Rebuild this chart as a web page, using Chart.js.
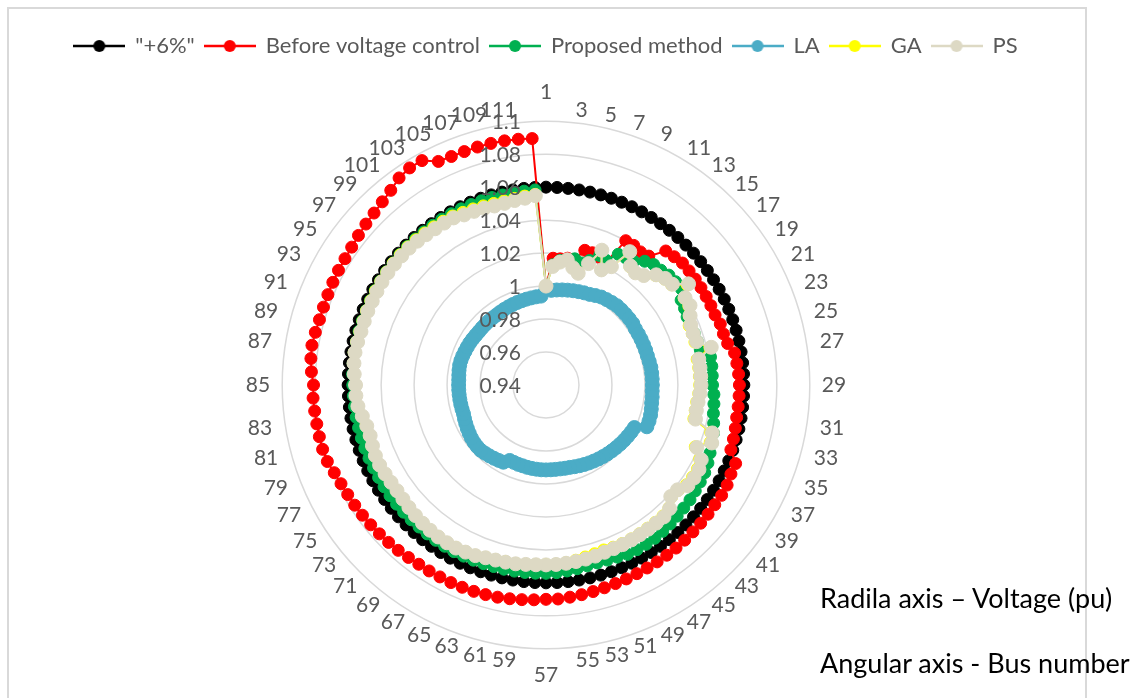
<!DOCTYPE html>
<html>
<head>
<meta charset="utf-8">
<script src="https://cdn.jsdelivr.net/npm/chart.js@4.4.1/dist/chart.umd.min.js"></script>
<style>
  html, body { margin: 0; padding: 0; background: #ffffff; width: 1138px; height: 698px; overflow: hidden; }
  #frame { position: absolute; left: 7px; top: 7px; width: 1080px; height: 740px; border: 2px solid #d9d9d9; box-sizing: border-box; }
  #wrap { position: absolute; left: 0; top: 0; width: 1138px; height: 698px; }
  .note { position: absolute; left: 820px; font-family: Lato, "Open Sans", sans-serif; font-size: 27px; color: #000000; white-space: nowrap; line-height: 30px; }
</style>
</head>
<body>
<div id="frame"></div>
<div id="wrap"><canvas id="radar" width="1138" height="698"></canvas></div>
<div class="note" style="top:583px">Radila axis – Voltage (pu)</div>
<div class="note" style="top:648px">Angular axis - Bus number</div>
<script>
// Bus numbers around the angular axis
const busNumbers = [
  1, 2, 3, 4, 5, 6, 7, 8, 9, 10,
  11, 12, 13, 14, 15, 16, 17, 18, 19, 20,
  21, 22, 23, 24, 25, 26, 27, 28, 29, 30,
  31, 32, 33, 34, 35, 36, 37, 38, 39, 40,
  41, 42, 43, 44, 45, 46, 47, 48, 49, 50,
  51, 52, 53, 54, 55, 56, 57, 58, 59, 60,
  61, 62, 63, 64, 65, 66, 67, 68, 69, 70,
  71, 72, 73, 74, 75, 76, 77, 78, 79, 80,
  81, 82, 83, 84, 85, 86, 87, 88, 89, 90,
  91, 92, 93, 94, 95, 96, 97, 98, 99, 100,
  101, 102, 103, 104, 105, 106, 107, 108, 109, 110,
  111, 112
];

// Radial axis tick values (voltage, pu)
const voltageTicks = [0.94, 0.96, 0.98, 1.0, 1.02, 1.04, 1.06, 1.08, 1.1];

// Upper voltage limit (+6 %)
const upperLimit = [
  1.06, 1.06, 1.06, 1.06, 1.06, 1.06, 1.06, 1.06, 1.06, 1.06,
  1.06, 1.06, 1.06, 1.06, 1.06, 1.06, 1.06, 1.06, 1.06, 1.06,
  1.06, 1.06, 1.06, 1.06, 1.06, 1.06, 1.06, 1.06, 1.06, 1.06,
  1.06, 1.06, 1.06, 1.06, 1.06, 1.06, 1.06, 1.06, 1.06, 1.06,
  1.06, 1.06, 1.06, 1.06, 1.06, 1.06, 1.06, 1.06, 1.06, 1.06,
  1.06, 1.06, 1.06, 1.06, 1.06, 1.06, 1.06, 1.06, 1.06, 1.06,
  1.06, 1.06, 1.06, 1.06, 1.06, 1.06, 1.06, 1.06, 1.06, 1.06,
  1.06, 1.06, 1.06, 1.06, 1.06, 1.06, 1.06, 1.06, 1.06, 1.06,
  1.06, 1.06, 1.06, 1.06, 1.06, 1.06, 1.06, 1.06, 1.06, 1.06,
  1.06, 1.06, 1.06, 1.06, 1.06, 1.06, 1.06, 1.06, 1.06, 1.06,
  1.06, 1.06, 1.06, 1.06, 1.06, 1.06, 1.06, 1.06, 1.06, 1.06,
  1.06, 1.06
];

// Bus voltages before voltage control
const beforeControl = [
  1.000, 1.017, 1.017, 1.018, 1.018, 1.025, 1.025, 1.024, 1.021, 1.040,
  1.040, 1.039, 1.040, 1.049, 1.050, 1.051, 1.051, 1.051, 1.051, 1.051,
  1.051, 1.051, 1.052, 1.052, 1.053, 1.056, 1.0565, 1.057, 1.0573, 1.0573,
  1.0573, 1.0573, 1.0578, 1.0583, 1.0588, 1.0645, 1.0645, 1.0655, 1.0658, 1.0655,
  1.0657, 1.0658, 1.066, 1.0662, 1.0665, 1.0666, 1.0667, 1.0668, 1.067, 1.0673,
  1.0676, 1.068, 1.0685, 1.069, 1.0695, 1.070, 1.070, 1.0705, 1.071, 1.0715,
  1.072, 1.0723, 1.0726, 1.0728, 1.073, 1.073, 1.0732, 1.0733, 1.0738, 1.0745,
  1.075, 1.0755, 1.076, 1.0765, 1.077, 1.0774, 1.078, 1.079, 1.0805, 1.081,
  1.081, 1.081, 1.0812, 1.0815, 1.081, 1.0825, 1.0835, 1.084, 1.0835, 1.083,
  1.083, 1.0832, 1.0835, 1.0838, 1.084, 1.0845, 1.0855, 1.0865, 1.0875, 1.089,
  1.091, 1.094, 1.0955, 1.0955, 1.0905, 1.090, 1.090, 1.0902, 1.0903, 1.0902,
  1.090, 1.0897
];

// Bus voltages with the proposed method
const proposedMethod = [
  1.000, 1.013, 1.016, 1.017, 1.0185, 1.017, 1.020, 1.025, 1.024, 1.0306,
  1.031, 1.032, 1.036, 1.038, 1.0385, 1.040, 1.0405, 1.0407, 1.0368, 1.036,
  1.035, 1.035, 1.0352, 1.0355, 1.036, 1.0412, 1.0412, 1.041, 1.041, 1.042,
  1.0425, 1.043, 1.0443, 1.0457, 1.0467, 1.0477, 1.049, 1.050, 1.0505, 1.051,
  1.0517, 1.052, 1.0525, 1.053, 1.0535, 1.054, 1.0541, 1.0541, 1.054, 1.053,
  1.0525, 1.0523, 1.0525, 1.053, 1.0535, 1.054, 1.0542, 1.0543, 1.0544, 1.0545,
  1.0546, 1.0546, 1.0548, 1.055, 1.0552, 1.0555, 1.0555, 1.0555, 1.0555, 1.0555,
  1.0556, 1.0558, 1.0559, 1.056, 1.056, 1.056, 1.0561, 1.0562, 1.0564, 1.0565,
  1.0566, 1.0568, 1.0569, 1.057, 1.0572, 1.0575, 1.0577, 1.058, 1.058, 1.058,
  1.058, 1.058, 1.0582, 1.0584, 1.0585, 1.0586, 1.0587, 1.0588, 1.0588, 1.0588,
  1.0588, 1.0588, 1.0588, 1.0587, 1.0586, 1.0585, 1.0584, 1.0583, 1.0582, 1.0582,
  1.0583, 1.0585
];

// Bus voltages, LA
const laVoltages = [
  0.998, 0.9975, 0.998, 0.9985, 0.999, 0.9995, 1.000, 1.0005, 1.001, 1.002,
  1.003, 1.0035, 1.004, 1.0045, 1.0045, 1.0045, 1.0045, 1.0045, 1.004, 1.004,
  1.004, 1.004, 1.004, 1.004, 1.0042, 1.0045, 1.0045, 1.0045, 1.0045, 1.0045,
  1.0048, 1.005, 1.0055, 1.006, 1.0062, 1.0062, 0.9995, 0.999, 0.9985, 0.998,
  0.9975, 0.997, 0.9965, 0.996, 0.9955, 0.995, 0.9945, 0.994, 0.9935, 0.993,
  0.9925, 0.992, 0.9918, 0.9916, 0.9915, 0.9915, 0.9915, 0.9915, 0.9914, 0.9913,
  0.9912, 0.991, 0.991, 0.9908, 0.9908, 0.9935, 0.994, 0.9945, 0.995, 0.9955,
  0.996, 0.996, 0.9958, 0.9955, 0.995, 0.9945, 0.994, 0.9935, 0.993, 0.993,
  0.993, 0.993, 0.993, 0.993, 0.993, 0.993, 0.9932, 0.9935, 0.9937, 0.9937,
  0.9935, 0.9932, 0.993, 0.9928, 0.9925, 0.9922, 0.992, 0.992, 0.992, 0.992,
  0.992, 0.992, 0.9922, 0.9924, 0.9926, 0.9928, 0.993, 0.9932, 0.9934, 0.9936,
  0.9938, 0.994
];

// Bus voltages, GA
const gaVoltages = [
  1.000, 1.012, 1.015, 1.017, 1.013, 1.011, 1.018, 1.028, 1.0175, 1.022,
  1.035, 1.028, 1.027, 1.029, 1.034, 1.0365, 1.0375, 1.045, 1.039, 1.039,
  1.0365, 1.034, 1.034, 1.034, 1.042, 1.033, 1.0332, 1.0332, 1.0332, 1.0328,
  1.032, 1.0318, 1.032, 1.044, 1.0455, 1.038, 1.0435, 1.045, 1.045, 1.0445,
  1.0425, 1.042, 1.0455, 1.0465, 1.0465, 1.0465, 1.0466, 1.0467, 1.0467, 1.0465,
  1.046, 1.0465, 1.047, 1.0478, 1.0485, 1.0488, 1.049, 1.0491, 1.0494, 1.0498,
  1.050, 1.0503, 1.0508, 1.0518, 1.0523, 1.0528, 1.0529, 1.0529, 1.0527, 1.0524,
  1.052, 1.0516, 1.0512, 1.051, 1.0512, 1.0517, 1.0522, 1.0522, 1.0518, 1.0513,
  1.0518, 1.0532, 1.055, 1.0557, 1.0558, 1.0568, 1.0576, 1.058, 1.0578, 1.0575,
  1.0576, 1.0578, 1.0579, 1.0581, 1.0583, 1.0584, 1.0585, 1.0585, 1.0584, 1.0582,
  1.0579, 1.0576, 1.0573, 1.0571, 1.0562, 1.0556, 1.0551, 1.0546, 1.0545, 1.0548,
  1.0553, 1.0558
];

// Bus voltages, PS
const psVoltages = [
  1.000, 1.012, 1.015, 1.017, 1.013, 1.0105, 1.018, 1.0285, 1.0175, 1.022,
  1.0355, 1.0285, 1.027, 1.029, 1.0345, 1.037, 1.038, 1.046, 1.0396, 1.0398,
  1.037, 1.035, 1.0346, 1.035, 1.0428, 1.034, 1.034, 1.034, 1.034, 1.0335,
  1.0328, 1.0325, 1.033, 1.045, 1.0465, 1.039, 1.0445, 1.046, 1.046, 1.0455,
  1.042, 1.0415, 1.046, 1.0473, 1.0472, 1.0472, 1.0472, 1.0473, 1.0474, 1.0474,
  1.0475, 1.048, 1.0483, 1.0486, 1.0488, 1.049, 1.0491, 1.0492, 1.0495, 1.050,
  1.0502, 1.0505, 1.051, 1.052, 1.0525, 1.053, 1.053, 1.053, 1.0527, 1.0524,
  1.052, 1.0515, 1.051, 1.0508, 1.051, 1.0515, 1.052, 1.052, 1.0515, 1.051,
  1.0515, 1.053, 1.0548, 1.0555, 1.0555, 1.0565, 1.0572, 1.0575, 1.0572, 1.0568,
  1.0568, 1.057, 1.057, 1.0572, 1.0575, 1.0576, 1.0576, 1.0575, 1.0574, 1.057,
  1.0566, 1.0562, 1.056, 1.0558, 1.0545, 1.054, 1.0535, 1.053, 1.053, 1.0535,
  1.054, 1.055
];

const seriesNames = ['"+6%"', 'Before voltage control', 'Proposed method', 'LA', 'GA', 'PS'];
const seriesData = [upperLimit, beforeControl, proposedMethod, laVoltages, gaVoltages, psVoltages];

// Styling (kept apart from the data)
const seriesColors = ['#000000', '#FF0000', '#00B050', '#4BACC6', '#FFFF00', '#DDD9C4'];
const seriesPointRadius = [6, 6, 6, 7, 6, 7];
const textGrey = '#595959';
const fontFamily = 'Lato, "Open Sans", sans-serif';
const labelFontSize = 21;

// Legend swatch: short line with a round marker in the middle
function makeSwatch(color) {
  const c = document.createElement('canvas');
  c.width = 52; c.height = 14;
  const g = c.getContext('2d');
  g.strokeStyle = color; g.lineWidth = 2.5;
  g.beginPath(); g.moveTo(0, 7); g.lineTo(52, 7); g.stroke();
  g.fillStyle = color;
  g.beginPath(); g.arc(26, 7, 6, 0, Math.PI * 2); g.fill();
  return c;
}
const legendSwatches = seriesColors.map(makeSwatch);

function fmtVoltage(v) { return String(parseFloat(v.toFixed(2))); }

// Voltage labels drawn on top of the series, right-aligned beside the vertical axis
const voltageLabels = {
  id: 'voltageLabels',
  afterDatasetsDraw(chart) {
    const s = chart.scales.r;
    const ctx = chart.ctx;
    ctx.save();
    ctx.font = labelFontSize + 'px ' + fontFamily;
    ctx.fillStyle = textGrey;
    ctx.textAlign = 'right';
    ctx.textBaseline = 'middle';
    s.ticks.forEach(t => {
      const y = s.yCenter - s.getDistanceFromCenterForValue(t.value);
      ctx.fillText(fmtVoltage(t.value), s.xCenter - 25, y + 1);
    });
    ctx.restore();
  }
};

// Extra room between the legend and the plot
const legendGap = {
  id: 'legendGap',
  beforeInit(chart) {
    const fit = chart.legend.fit;
    chart.legend.fit = function () { fit.call(this); this.height += 12; };
  }
};

// Gap between the outer ring and a bus label: wider at the sides, tight on the diagonals
function pointLabelGap(ctx) {
  const n = busNumbers.length;
  const i = ctx.index;
  if (i === 0) return 16;
  if (i === n / 2) return 14;
  const s = Math.abs(Math.sin(i * 2 * Math.PI / n));
  return 12 * Math.pow(s, 4);
}

const nSeries = seriesNames.length;
const datasets = seriesNames.map((name, i) => ({
  label: name,
  data: seriesData[i],
  borderColor: seriesColors[i],
  backgroundColor: seriesColors[i],
  pointBackgroundColor: seriesColors[i],
  pointBorderColor: seriesColors[i],
  borderWidth: 2,
  pointRadius: seriesPointRadius[i],
  pointBorderWidth: 1,
  fill: false,
  order: nSeries - 1 - i
}));

Chart.defaults.font.family = fontFamily;

new Chart(document.getElementById('radar'), {
  type: 'radar',
  data: { labels: busNumbers, datasets },
  plugins: [voltageLabels, legendGap],
  options: {
    responsive: false,
    animation: false,
    events: [],
    layout: { padding: { top: 25, bottom: 8, left: 0, right: 46 } },
    elements: { line: { tension: 0 } },
    plugins: {
      tooltip: { enabled: false },
      legend: {
        position: 'top',
        labels: {
          usePointStyle: true,
          pointStyleWidth: 50,
          padding: 10,
          color: textGrey,
          font: { size: 22, family: fontFamily },
          sort: (a, b) => a.datasetIndex - b.datasetIndex,
          generateLabels(chart) {
            const items = Chart.defaults.plugins.legend.labels.generateLabels(chart);
            items.forEach(it => { it.pointStyle = legendSwatches[it.datasetIndex]; it.fontColor = textGrey; });
            return items;
          }
        }
      }
    },
    scales: {
      r: {
        min: 0.94,
        max: 1.1,
        afterBuildTicks(s) { s.ticks = voltageTicks.map(v => ({ value: v })); },
        ticks: { display: false },
        grid: { circular: true, color: '#d9d9d9', lineWidth: 1.5 },
        angleLines: { display: false },
        pointLabels: {
          color: textGrey,
          font: { size: labelFontSize, family: fontFamily },
          padding: pointLabelGap,
          callback: (label) => (label % 2 === 1 ? String(label) : '')
        }
      }
    }
  }
});
</script>
</body>
</html>
